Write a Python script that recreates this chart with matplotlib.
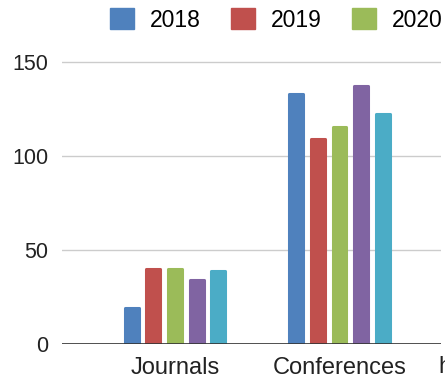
import matplotlib
matplotlib.use("Agg")
import matplotlib.pyplot as plt
import numpy as np
from matplotlib.patches import Patch

plt.rcParams["font.family"] = ["Liberation Sans", "DejaVu Sans"]

categories = ["Journals", "Conferences"]
series = ["2018", "2019", "2020", "2021", "2022"]
journals = [19, 40, 40, 34, 39]
conferences = [133, 109, 115, 137, 122]
colors = ["#4F81BD", "#C0504D", "#9BBB59", "#8064A2", "#4BACC6"]

values = np.array([journals, conferences])

W, H = 445, 380
ymax = 152
px_per_unit = (344 - 61.5) / 150
fig = plt.figure(figsize=(W / 100, H / 100), dpi=100)
ax = fig.add_axes([62 / W, 36 / H, (441 - 62) / W, ymax * px_per_unit / H])

x = np.arange(len(categories))
pitch = 0.1315
w = 0.085
for k, name in enumerate(series):
    off = (k - (len(series) - 1) / 2) * pitch
    ax.bar(x + off, values[:, k], width=w, color=colors[k], edgecolor=colors[k],
           linewidth=2.2, joinstyle="round", zorder=2, label=name)

ax.set_xlim(-0.687, 1.617)
ax.set_ylim(0, ymax)
ax.set_yticks([0, 50, 100, 150])
ax.set_xticks(x)
ax.set_xticklabels(categories)
ax.grid(axis="y", color="#cccccc", linewidth=1, zorder=0)
ax.axhline(0, color="#333333", linewidth=1.2, zorder=3)
for s in ax.spines.values():
    s.set_visible(False)
ax.tick_params(axis="both", length=0, colors="#222222")
ax.tick_params(axis="y", pad=10, labelsize=15.5)
ax.tick_params(axis="x", pad=9, labelsize=17)

# next category label runs off the right edge
fig.text(438 / W, 13 / H, "hal", fontsize=17, color="#222222", ha="left", va="center")

handles = [Patch(facecolor=c, edgecolor=c, joinstyle="round") for c in colors]
fig.legend(handles, series, loc="upper left", bbox_to_anchor=(94 / W, 1.021),
           ncol=5, frameon=False, fontsize=16.5, handlelength=1.05, handleheight=1.05,
           handletextpad=0.7, columnspacing=1.3, borderaxespad=0.3)

fig.savefig("out.png", dpi=100)
